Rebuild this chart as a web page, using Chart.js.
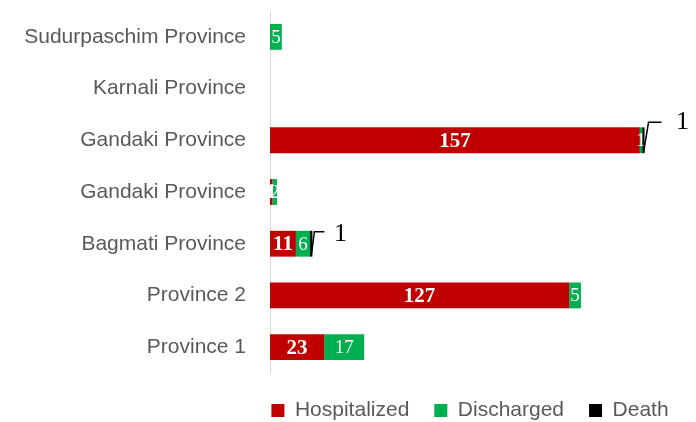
<!DOCTYPE html>
<html>
<head>
<meta charset="utf-8">
<script src="https://cdn.jsdelivr.net/npm/chart.js@4"></script>
<style>
    html, body { margin: 0; padding: 0; background: #ffffff; }
    #wrap { width: 696px; height: 422px; position: relative; }
</style>
</head>
<body>
<div id="wrap"><canvas id="province-chart"></canvas></div>
<script>
const provinces = ['Sudurpaschim Province', 'Karnali Province', 'Gandaki Province', 'Gandaki Province', 'Bagmati Province', 'Province 2', 'Province 1'];
const hospitalized = [0, 0, 157, 1, 11, 127, 23];
const discharged = [5, 0, 1, 2, 6, 5, 17];
const deaths = [0, 0, 1, 0, 1, 0, 0];

const axisFont = { family: '"Liberation Sans", Arial, sans-serif', size: 21, lineHeight: 1 };

// leader line + label placement for the death callouts, per category index
const calloutOffsets = {
    2: { start: [-1, 12], bend: [4, -18], end: [17, -18], label: [38, -18] },
    4: { start: [-1, 11], bend: [2, -12], end: [12, -12], label: [28, -10] },
};

const valueLabels = {
    id: 'valueLabels',
    afterDatasetsDraw(chart) {
        const { ctx } = chart;
        ctx.save();
        ctx.textAlign = 'center';
        ctx.textBaseline = 'middle';
        chart.data.datasets.forEach((dataset, di) => {
            const meta = chart.getDatasetMeta(di);
            meta.data.forEach((bar, i) => {
                const value = dataset.data[i];
                if (!value) {
                    return;
                }
                if (di === 2) {
                    const off = calloutOffsets[i];
                    if (!off) {
                        return;
                    }
                    ctx.strokeStyle = '#000000';
                    ctx.lineWidth = 1.5;
                    ctx.beginPath();
                    ctx.moveTo(bar.x + off.start[0], bar.y + off.start[1]);
                    ctx.lineTo(bar.x + off.bend[0], bar.y + off.bend[1]);
                    ctx.lineTo(bar.x + off.end[0], bar.y + off.end[1]);
                    ctx.stroke();
                    ctx.fillStyle = '#000000';
                    ctx.font = '26px "Liberation Serif", serif';
                    ctx.fillText(String(value), bar.x + off.label[0], bar.y + off.label[1]);
                    return;
                }
                ctx.fillStyle = '#ffffff';
                ctx.font = di === 0 ? 'bold 21px "Liberation Serif", serif' : '19px "Liberation Serif", serif';
                ctx.fillText(String(value), (bar.x + bar.base) / 2, bar.y + 1);
            });
        });
        ctx.restore();
    },
};

// the legend sits under the plot area rather than the whole canvas
const legendPlacement = {
    id: 'legendPlacement',
    afterLayout(chart) {
        const legend = chart.legend;
        if (!legend) {
            return;
        }
        legend.left = 246;
        legend.top += 2;
        legend.bottom += 2;
    },
};

new Chart(document.getElementById('province-chart'), {
    type: 'bar',
    data: {
        labels: provinces,
        datasets: [
            { label: 'Hospitalized', data: hospitalized, backgroundColor: '#c00000' },
            { label: 'Discharged', data: discharged, backgroundColor: '#00b050' },
            { label: 'Death', data: deaths, backgroundColor: '#000000' },
        ],
    },
    options: {
        indexAxis: 'y',
        responsive: true,
        maintainAspectRatio: false,
        animation: false,
        datasets: {
            bar: {
                categoryPercentage: 1,
                barPercentage: 0.5,
                borderWidth: 0,
            },
        },
        layout: {
            padding: { left: 0, right: 2, top: 11, bottom: 0 },
        },
        plugins: {
            legend: {
                position: 'bottom',
                maxHeight: 49,
                labels: {
                    boxWidth: 13,
                    boxHeight: 13,
                    padding: 25,
                    color: '#595959',
                    font: { family: '"Liberation Sans", Arial, sans-serif', size: 21 },
                },
            },
            tooltip: { enabled: false },
        },
        scales: {
            x: {
                stacked: true,
                display: false,
                min: 0,
                max: 180,
            },
            y: {
                stacked: true,
                afterFit: (scale) => {
                    scale.width = 270;
                },
                grid: {
                    display: true,
                    drawOnChartArea: false,
                    drawTicks: true,
                    tickLength: 24,
                    color: 'rgba(0, 0, 0, 0)',
                },
                border: {
                    display: true,
                    color: '#d9d9d9',
                    width: 1,
                },
                ticks: {
                    padding: 0,
                    color: '#595959',
                    font: axisFont,
                },
            },
        },
    },
    plugins: [valueLabels, legendPlacement],
});
</script>
</body>
</html>
